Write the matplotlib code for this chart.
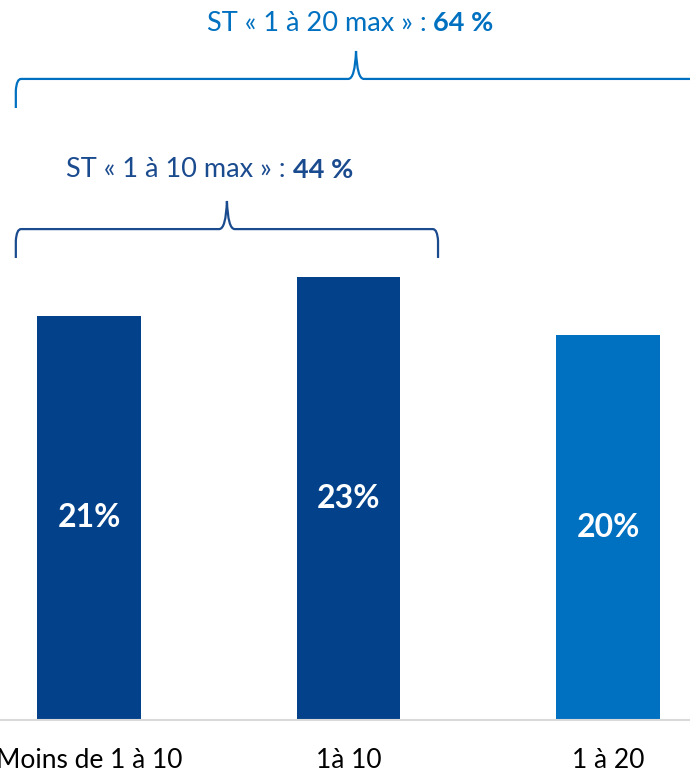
import matplotlib
matplotlib.use("Agg")
import matplotlib.pyplot as plt
from matplotlib.path import Path
from matplotlib.patches import PathPatch
from matplotlib.transforms import offset_copy

plt.rcParams['font.family'] = ['Lato', 'DejaVu Sans']

categories = ["Moins de 1 à 10", "1à 10", "1 à 20"]
values = [21, 23, 20]
bar_colors = ["#03428A", "#03428A", "#0070C0"]

# subtotal groups: label, total, first bar, last bar
groups = [
    ("ST « 1 à 10 max » : ", "44 %", 0, 1, "#1B4B8F"),
    ("ST « 1 à 20 max » : ", "64 %", 0, 2, "#0070C0"),
]

fig = plt.figure(figsize=(6.9, 7.74), dpi=100)
ax = fig.add_axes([0, 1 - 720 / 774, 1, 720 / 774])
x = list(range(len(categories)))
ax.bar(x, values, width=0.4, color=bar_colors)
for xi, v in zip(x, values):
    ax.text(xi, v / 2, f"{v}%", ha="center", va="center", color="white",
            fontsize=23, fontweight="bold")

ax.set_xlim(-0.343, 2.316)
ax.set_ylim(0, 37.4)
for s in ["top", "right", "left"]:
    ax.spines[s].set_visible(False)
ax.spines["bottom"].set_color("#D9D9D9")
ax.spines["bottom"].set_linewidth(1.5)
ax.set_yticks([])
ax.set_xticks(x)
ax.set_xticklabels(categories, fontsize=19)
ax.tick_params(axis="x", length=0, pad=20)


def brace(ax, x0, x1, xt, yb, yh, ytip, color):
    dx, dy, w = 0.02, 0.6, 0.03
    verts = [(x0, yb), (x0, yh - dy), (x0 + 0.003, yh), (x0 + dx, yh),
             (xt - w, yh), (xt - 0.004, yh), (xt, ytip),
             (xt + 0.004, yh), (xt + w, yh),
             (x1 - dx, yh), (x1 - 0.003, yh), (x1, yh - dy), (x1, yb)]
    codes = [Path.MOVETO, Path.LINETO, Path.CURVE3, Path.CURVE3,
             Path.LINETO, Path.CURVE3, Path.CURVE3,
             Path.CURVE3, Path.CURVE3,
             Path.LINETO, Path.CURVE3, Path.CURVE3, Path.LINETO]
    ax.add_patch(PathPatch(Path(verts, codes), fill=False, edgecolor=color,
                           lw=1.6, clip_on=False))


# bottom, bar, tip, text y ; right end ; text x shift
levels = [(24.0, 25.5, 26.96, 28.57, 1.345, -0.066),
          (31.79, 33.3, 34.75, 36.2, 2.34, -0.023)]
fig.canvas.draw()
r = fig.canvas.get_renderer()
for (lab, tot, i0, i1, col), (yb, yh, ytip, yt, x1, sh) in zip(groups, levels):
    x0 = i0 - 0.282
    xt = (x0 + x1) / 2
    brace(ax, x0, x1, xt, yb, yh, ytip, col)
    t1 = ax.text(xt + sh, yt, lab, ha="left", va="center", color=col, fontsize=19.5)
    t2 = ax.text(xt + sh, yt, tot, ha="left", va="center", color=col, fontsize=19.5,
                 fontweight="bold")
    w1 = t1.get_window_extent(r).width
    w2 = t2.get_window_extent(r).width
    tot_w = w1 + w2
    t1.set_transform(offset_copy(ax.transData, fig=fig, x=-tot_w / 2, units="dots"))
    t2.set_transform(offset_copy(ax.transData, fig=fig, x=-tot_w / 2 + w1, units="dots"))

fig.savefig("out.png", dpi=100)
